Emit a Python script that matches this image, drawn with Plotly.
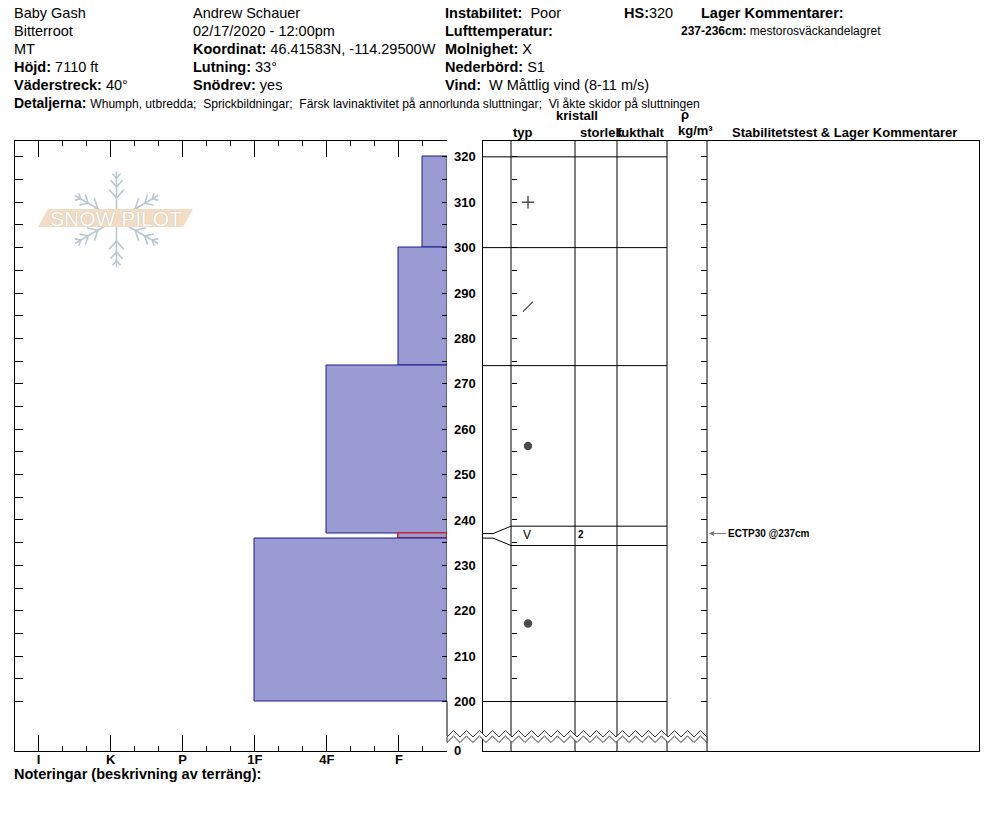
import math
import plotly.graph_objects as go

# the page puts the figure 8px in from the top-left corner
OX, OY = 8, 8
W, H = 994 - OX, 840 - OY
FONT = "Liberation Sans, Arial, sans-serif"

# ---- header data
site = ["Baby Gash", "Bitterroot", "MT"]
observer = ["Andrew Schauer", "02/17/2020 - 12:00pm"]
elevation = "7110 ft"
aspect = "40°"
coords = "46.41583N, -114.29500W"
slope = "33°"
wind_loading = "yes"
stability = "Poor"
air_temp = ""
sky = "X"
precip = "S1"
wind = "W Måttlig vind (8-11 m/s)"
snow_depth = 320
details = ["Whumph, utbredda", "Sprickbildningar",
           "Färsk lavinaktivitet på annorlunda sluttningar",
           "Vi åkte skidor på sluttningen"]

# ---- snow layers (cm)
layer_top = [320, 300, 274, 237, 236]
layer_bottom = [300, 274, 237, 236, 200]
layer_hardness = ["F-", "F", "4F", "F", "1F"]
layer_grain = ["PP", "DF", "RG", "SH", "RG"]
layer_size = ["", "", "", "2", ""]
layer_comment = ["", "", "", "mestorosväckandelagret", ""]
concern = 3

hardness_labels = ["I", "K", "P", "1F", "4F", "F"]
hardness_value = {"F-": 2 / 3, "F": 1, "4F": 2, "1F": 3, "P": 4, "K": 5, "I": 6}

test_depth = 237
test_result = "ECTP30"


def px(x):
    return (x - OX) / W


def py(y):
    return 1 - (y - OY) / H


y_range = [189.1, 323.6]
y_dom = [py(751), py(140.5)]
ticks5 = list(range(200, 321, 5))
base = 1 / 3

fig = go.Figure()

# hardness bars
edge = ["#c0282d" if i == concern else "#1c1c8c" for i in range(len(layer_top))]
edge_w = [1.6 if i == concern else 1 for i in range(len(layer_top))]
fig.add_trace(go.Bar(
    orientation="h",
    y=[(t + b) / 2 for t, b in zip(layer_top, layer_bottom)],
    width=[t - b for t, b in zip(layer_top, layer_bottom)],
    x=[hardness_value[h] - base for h in layer_hardness],
    base=base,
    marker=dict(color="#9b9bd4", line=dict(color=edge, width=edge_w)),
    xaxis="x", yaxis="y", hoverinfo="skip", showlegend=False,
))

# thin layers get spread out in the text columns
min_disp = 4.26
disp = {b: b for b in layer_top + layer_bottom}
for t, b in zip(layer_top, layer_bottom):
    if t - b < min_disp:
        c = (t + b) / 2
        disp[t] = c + min_disp / 2
        disp[b] = c - min_disp / 2

bx, by = [], []
for b in sorted(set(layer_top + layer_bottom), reverse=True):
    bx += [0, 10, 28, 184, None]
    by += [b, b, disp[b], disp[b], None]
fig.add_trace(go.Scatter(x=bx, y=by, mode="lines", line=dict(color="black", width=1),
                         xaxis="x2", yaxis="y2", hoverinfo="skip", showlegend=False))

sym_y = [(disp[t] + disp[b]) / 2 for t, b in zip(layer_top, layer_bottom)]
marker_kind = {"PP": ("cross-thin", 9), "DF": ("line-ne", 10), "RG": ("circle", 7)}
mk = [i for i, g in enumerate(layer_grain) if g in marker_kind]
fig.add_trace(go.Scatter(
    x=[45] * len(mk), y=[sym_y[i] for i in mk], mode="markers",
    marker=dict(symbol=[marker_kind[layer_grain[i]][0] for i in mk],
                size=[marker_kind[layer_grain[i]][1] for i in mk],
                color="black", line=dict(color="black", width=1.4)),
    xaxis="x2", yaxis="y2", hoverinfo="skip", showlegend=False,
))
tx = [i for i, g in enumerate(layer_grain) if g not in marker_kind]
fig.add_trace(go.Scatter(
    x=[44] * len(tx), y=[sym_y[i] for i in tx], mode="text",
    text=["V" for i in tx], textfont=dict(size=12, color="black", family=FONT),
    xaxis="x2", yaxis="y2", hoverinfo="skip", showlegend=False,
))
sz = [i for i, s in enumerate(layer_size) if s]
fig.add_trace(go.Scatter(
    x=[95] * len(sz), y=[sym_y[i] for i in sz], mode="text", textposition="middle right",
    text=["<b>%s</b>" % layer_size[i] for i in sz], textfont=dict(size=10, color="black", family=FONT),
    xaxis="x2", yaxis="y2", hoverinfo="skip", showlegend=False,
))

# empty traces so the extra tick axes get drawn
for xa, ya in [("x", "y5"), ("x2", "y3"), ("x2", "y4")]:
    fig.add_trace(go.Scatter(x=[None], y=[None], xaxis=xa, yaxis=ya, showlegend=False, hoverinfo="skip"))

shapes = []
# column lines
for cx in [28, 92, 134, 184, 224]:
    shapes.append(dict(type="line", xref="x2", yref="y2 domain", x0=cx, x1=cx, y0=0, y1=1,
                       line=dict(color="black", width=1)))
# right edge of hardness plot, down to the break
shapes.append(dict(type="line", xref="paper", yref="y", x0=px(447), x1=px(447), y0=200, y1=192.4,
                   line=dict(color="black", width=1)))

# axis break zigzag
zx = []
x = 447.0
while x <= 707.5:
    zx.append(x)
    x += 6.5
top_pts = [(xx, 730.5 if i % 2 else 737) for i, xx in enumerate(zx)]
bot_pts = [(xx, yy + 5.5) for xx, yy in top_pts][::-1]
pts = top_pts + bot_pts
path = "M " + " L ".join("%.5f,%.5f" % (px(a), py(b)) for a, b in pts) + " Z"
shapes.append(dict(type="path", xref="paper", yref="paper", path=path, fillcolor="white",
                   line=dict(color="#333333", width=1), layer="above"))

# snowpilot logo
cxl, cyl, arm = 116.5, 219.5, 48
flake_col = "#b9c8d0"
for a in [90, 30, 150, 210, 270, 330]:
    r = math.radians(a)
    ex, ey = cxl + arm * math.cos(r), cyl - arm * math.sin(r)
    shapes.append(dict(type="line", xref="paper", yref="paper", x0=px(cxl), y0=py(cyl), x1=px(ex), y1=py(ey),
                       line=dict(color=flake_col, width=1.6)))
    for f, bl in [(0.45, 11), (0.68, 9), (0.86, 6)]:
        sx, sy = cxl + f * arm * math.cos(r), cyl - f * arm * math.sin(r)
        for s in (-42, 42):
            r2 = math.radians(a + s)
            shapes.append(dict(type="line", xref="paper", yref="paper", x0=px(sx), y0=py(sy),
                               x1=px(sx + bl * math.cos(r2)), y1=py(sy - bl * math.sin(r2)),
                               line=dict(color=flake_col, width=1.6)))
band = [(48, 209), (193, 209), (183, 227), (38, 227)]
shapes.append(dict(type="path", xref="paper", yref="paper",
                   path="M " + " L ".join("%.5f,%.5f" % (px(a), py(b)) for a, b in band) + " Z",
                   fillcolor="#f3dcc6", line=dict(width=0)))

ann = []


def note(x, y, text, size=14.5, anchor="left"):
    ann.append(dict(x=px(x), y=py(y), xref="paper", yref="paper", text=text, showarrow=False,
                    xanchor=anchor, yanchor="middle", font=dict(size=size, family=FONT, color="black")))


rows = [13.5, 31, 49, 67, 85]
col1 = site + ["<b>Höjd:</b> " + elevation, "<b>Väderstreck:</b> " + aspect]
col2 = observer + ["<b>Koordinat:</b> " + coords, "<b>Lutning:</b> " + slope, "<b>Snödrev:</b> " + wind_loading]
col3 = ["<b>Instabilitet:</b>  " + stability, "<b>Lufttemperatur:</b> " + air_temp,
        "<b>Molnighet:</b> " + sky, "<b>Nederbörd:</b> " + precip, "<b>Vind:</b> \u00a0" + wind]
for yy, t in zip(rows, col1):
    note(12, yy, t)
for yy, t in zip(rows, col2):
    note(191, yy, t)
for yy, t in zip(rows, col3):
    note(443, yy, t)
note(622, 13.5, "<b>HS:</b>%d" % snow_depth)
note(699, 13.5, "<b>Lager Kommentarer:</b>")
for t, b, c in zip(layer_top, layer_bottom, layer_comment):
    if c:
        note(679, 31, "<b>%d-%dcm:</b> %s" % (t, b, c), size=12)
note(12, 103, "<b>Detaljerna:</b> <span style='font-size:12.1px'>"
     + ";\u00a0 ".join(details) + "</span>", size=14)
note(12, 774, "<b>Noteringar (beskrivning av terräng):</b>")

# column headers
note(523, 132, "<b>typ</b>", 13, "center")
note(577, 116, "<b>kristall</b>", 13, "center")
note(601, 132, "<b>storlek</b>", 13, "center")
note(641, 132, "<b>fukthalt</b>", 13, "center")
note(685, 114, "<b>ρ</b>", 13, "center")
note(695, 130, "<b>kg/m³</b>", 13, "center")
note(844, 132, "<b>Stabilitetstest & Lager Kommentarer</b>", 13, "center")

# logo text
ann.append(dict(x=px(116), y=py(218), xref="paper", yref="paper", text="SNOW PILOT", showarrow=False,
                xanchor="center", yanchor="middle",
                font=dict(size=21, family=FONT, color="white", shadow="0px 0px 1px #b0a090")))

# stability test
ann.append(dict(x=226, y=test_depth, xref="x2", yref="y2", ax=243, ay=test_depth, axref="x2", ayref="y2",
                text="<b>%s @%dcm</b>" % (test_result, test_depth), showarrow=True,
                arrowhead=2, arrowsize=1, arrowwidth=1, arrowcolor="#777777", xanchor="left",
                font=dict(size=10, family=FONT, color="black")))

axis_common = dict(showgrid=False, zeroline=False, linecolor="black", linewidth=1, tickcolor="black")

fig.update_layout(
    width=W, height=H,
    margin=dict(l=0, r=0, t=0, b=0, autoexpand=False),
    paper_bgcolor="white", plot_bgcolor="white",
    font=dict(family=FONT, color="black"),
    showlegend=False,
    bargap=0,
    xaxis=dict(domain=[px(14.5), px(447)], range=[6 + 1 / 3, 1 / 3], anchor="y",
               tickmode="array", tickvals=[6, 5, 4, 3, 2, 1],
               ticktext=["<b>%s</b>" % h for h in hardness_labels],
               tickfont=dict(size=13), ticks="inside", ticklen=16, showline=True, mirror="ticks",
               ticklabelstandoff=-4,
               minor=dict(ticks="inside", ticklen=5, dtick=1 / 3, tick0=0, tickcolor="black"),
               **axis_common),
    yaxis=dict(domain=y_dom, range=y_range, anchor="x", tickmode="array", tickvals=ticks5,
               ticks="inside", ticklen=8, showticklabels=False, showline=True, **axis_common),
    yaxis5=dict(overlaying="y", anchor="free", position=px(447), side="right", range=y_range,
                tickmode="array", tickvals=[189.13] + ticks5,
                ticktext=["<b>0</b>"] + ["<b>%d</b>" % v if v % 10 == 0 else "" for v in ticks5],
                tickfont=dict(size=13), ticks="inside", ticklen=5, ticklabelstandoff=6,
                showline=False, **axis_common),
    xaxis2=dict(domain=[px(483), px(979)], range=[0, 496], anchor="y2", showticklabels=False,
                ticks="", showline=True, mirror=True, **axis_common),
    yaxis2=dict(domain=y_dom, range=y_range, anchor="x2", showticklabels=False, ticks="",
                showline=True, mirror=True, **axis_common),
    yaxis3=dict(overlaying="y2", anchor="free", position=px(511), side="right", range=y_range,
                tickmode="array", tickvals=ticks5, ticks="outside", ticklen=5,
                showticklabels=False, showline=False, **axis_common),
    yaxis4=dict(overlaying="y2", anchor="free", position=px(707), side="left", range=y_range,
                tickmode="array", tickvals=ticks5, ticks="outside", ticklen=6,
                showticklabels=False, showline=False, **axis_common),
    shapes=shapes,
    annotations=ann,
)

fig.write_html("out.html")
